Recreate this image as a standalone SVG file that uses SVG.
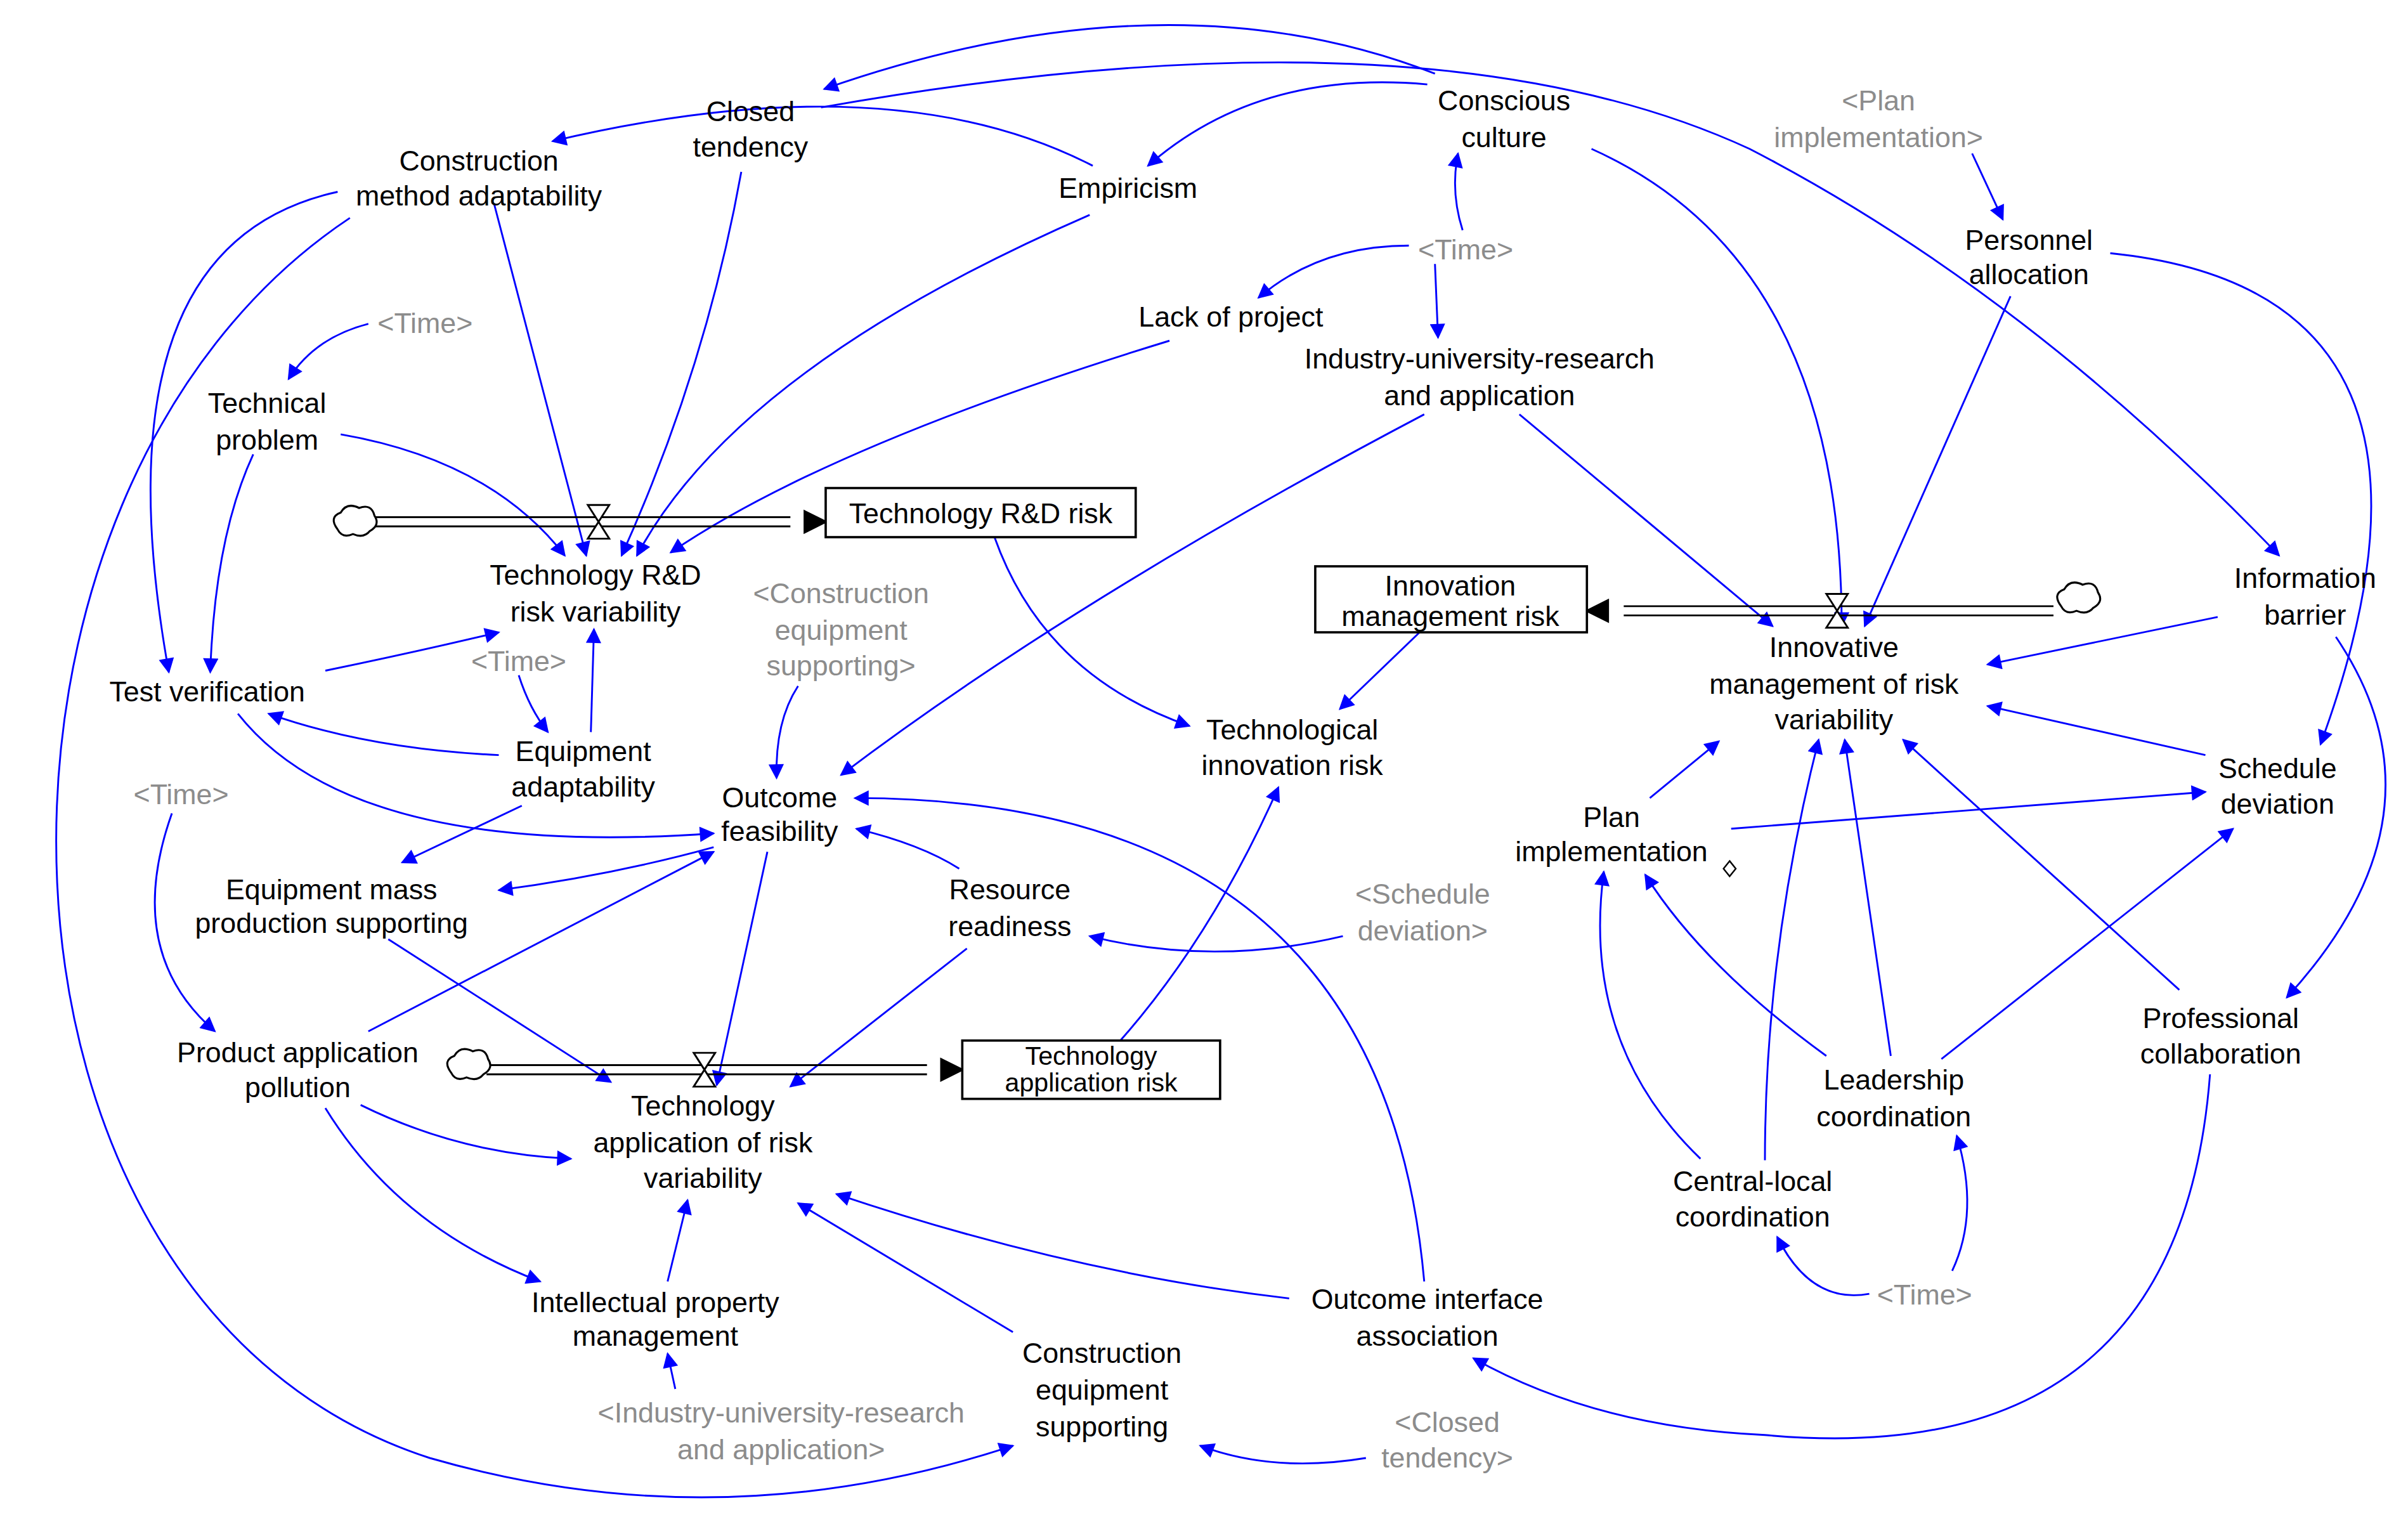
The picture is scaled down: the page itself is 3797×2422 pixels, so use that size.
<svg xmlns="http://www.w3.org/2000/svg" width="3797" height="2422" viewBox="0 0 3797 2422">
<style>
text{font-family:"Liberation Sans",Arial,sans-serif;font-size:18.5px;fill:#000;text-anchor:middle}
text.g{fill:#8c8c8c}
text.s{font-size:17px}
.c path{fill:none;stroke:#0000ff;stroke-width:1.2;marker-end:url(#a)}
.box{fill:#fff;stroke:#000;stroke-width:1.5}
.pipe{fill:none;stroke:#000;stroke-width:1.2}
.cloud{fill:#fff;stroke:#000;stroke-width:1.3}
.valve{fill:#fff;stroke:#000;stroke-width:1.2}
</style>
<defs>
<marker id="a" viewBox="0 0 10 10" refX="9" refY="5" markerWidth="13" markerHeight="10" markerUnits="userSpaceOnUse" orient="auto"><path d="M0,0L10,5L0,10z" fill="#0000ff"/></marker>
<marker id="b" viewBox="0 0 10 10" refX="9" refY="5" markerWidth="28" markerHeight="16" markerUnits="userSpaceOnUse" orient="auto"><path d="M0,0L10,5L0,10z" fill="#000"/></marker>
</defs>
<rect width="3797" height="2422" fill="#fff"/>
<g transform="scale(2.42)">
<g id="connectors" class="c">
<path d="M935,48 Q760,-20 537,58"/>
<path d="M930,55 Q820,45 748,108"/>
<path d="M712,108 Q580,40 360,92"/>
<path d="M535,70 Q930,0 1140,97 Q1320,190 1485,362"/>
<path d="M483,112 Q460,240 405,362"/>
<path d="M322,133 L382,362"/>
<path d="M710,140 Q480,240 415,362"/>
<path d="M762,222 Q540,290 437,360"/>
<path d="M222,283 Q320,300 368,362"/>
<path d="M240,211 Q205,220 188,247"/>
<path d="M165,296 Q140,350 137,438"/>
<path d="M220,125 Q60,160 110,438"/>
<path d="M212,437 Q270,425 325,412"/>
<path d="M385,477 L387,410"/>
<path d="M338,440 Q345,462 357,477"/>
<path d="M325,492 Q240,488 175,465"/>
<path d="M155,465 Q230,560 465,543"/>
<path d="M340,525 L262,562"/>
<path d="M465,552 Q400,570 325,580"/>
<path d="M520,447 Q505,470 506,507"/>
<path d="M928,270 Q700,390 548,505"/>
<path d="M625,566 Q600,550 558,540"/>
<path d="M928,835 Q900,520 557,520"/>
<path d="M240,672 L465,555"/>
<path d="M112,530 Q80,620 140,672"/>
<path d="M500,555 L467,707"/>
<path d="M253,612 L398,705"/>
<path d="M630,618 L515,708"/>
<path d="M235,720 Q300,752 372,755"/>
<path d="M212,722 Q260,800 352,835"/>
<path d="M435,835 L448,782"/>
<path d="M440,905 L435,882"/>
<path d="M660,868 L520,784"/>
<path d="M840,846 Q700,830 545,778"/>
<path d="M890,950 Q830,960 782,942"/>
<path d="M228,142 C-40,320 -30,850 280,950 Q470,1005 660,942"/>
<path d="M648,350 Q680,440 775,473"/>
<path d="M925,412 L873,462"/>
<path d="M730,678 Q790,610 833,513"/>
<path d="M875,610 Q790,630 710,610"/>
<path d="M918,160 Q860,160 820,194"/>
<path d="M935,172 L937,220"/>
<path d="M953,150 Q945,125 950,100"/>
<path d="M1037,97 Q1200,170 1200,408"/>
<path d="M1285,100 L1305,143"/>
<path d="M1310,193 L1215,408"/>
<path d="M990,270 L1155,408"/>
<path d="M1375,165 Q1620,190 1512,485"/>
<path d="M1445,402 L1295,433"/>
<path d="M1522,415 Q1600,530 1490,650"/>
<path d="M1437,492 L1295,460"/>
<path d="M1075,520 L1120,483"/>
<path d="M1128,540 L1437,516"/>
<path d="M1265,690 L1455,540"/>
<path d="M1232,688 L1202,482"/>
<path d="M1190,688 Q1110,630 1072,570"/>
<path d="M1150,756 Q1150,620 1185,482"/>
<path d="M1108,755 Q1030,680 1045,568"/>
<path d="M1420,645 L1240,482"/>
<path d="M1218,843 Q1180,850 1158,806"/>
<path d="M1272,828 Q1290,790 1275,740"/>
<path d="M1440,700 Q1420,960 1150,935 Q1040,930 960,885"/>
</g>
<g id="flow1">
<path class="pipe" d="M243,337 L515,337 M243,343 L515,343"/>
<path d="M243,340 L538,340" stroke="none" fill="none" marker-end="url(#b)"/>
<path class="cloud" d="M220,345 q-6,-8 2,-11 q4,-7 12,-3 q8,-3 10,5 q4,6 -3,10 q-4,5 -11,2 q-7,3 -10,-3z"/>
<path class="valve" d="M383,329 L397,329 L383,351 L397,351z"/>
</g>
<g id="flow2">
<path class="pipe" d="M1338,395 L1058,395 M1338,401 L1058,401"/>
<path d="M1338,398 L1034,398" stroke="none" fill="none" marker-end="url(#b)"/>
<path class="cloud" d="M1343,395 q-6,-8 2,-11 q4,-7 12,-3 q8,-3 10,5 q4,6 -3,10 q-4,5 -11,2 q-7,3 -10,-3z"/>
<path class="valve" d="M1190,387 L1204,387 L1190,409 L1204,409z"/>
</g>
<g id="flow3">
<path class="pipe" d="M317,694 L604,694 M317,700 L604,700"/>
<path d="M317,697 L627,697" stroke="none" fill="none" marker-end="url(#b)"/>
<path class="cloud" d="M294,699 q-6,-8 2,-11 q4,-7 12,-3 q8,-3 10,5 q4,6 -3,10 q-4,5 -11,2 q-7,3 -10,-3z"/>
<path class="valve" d="M452,686 L466,686 L452,708 L466,708z"/>
</g>
<g id="stock-rd"><rect class="box" x="538" y="318" width="202" height="32"/><text x="639" y="341">Technology R&amp;D risk</text></g>
<g id="stock-im"><rect class="box" x="857" y="369" width="177" height="43"/><text x="945" y="388">Innovation</text><text x="945" y="408">management risk</text></g>
<g id="stock-ta"><rect class="box" x="627" y="678" width="168" height="38"/><text class="s" x="711" y="694">Technology</text><text class="s" x="711" y="711">application risk</text></g>
<g id="n1"><text x="489" y="79">Closed</text><text x="489" y="102">tendency</text></g>
<g id="n2"><text x="980" y="72">Conscious</text><text x="980" y="96">culture</text></g>
<g id="n3"><text x="312" y="111">Construction</text><text x="312" y="134">method adaptability</text></g>
<g id="n4"><text x="735" y="129">Empiricism</text></g>
<g id="n5"><text class="g" x="1224" y="72">&lt;Plan</text><text class="g" x="1224" y="96">implementation&gt;</text></g>
<g id="n6"><text x="1322" y="163">Personnel</text><text x="1322" y="185">allocation</text></g>
<g id="n7"><text class="g" x="955" y="169">&lt;Time&gt;</text></g>
<g id="n8"><text x="802" y="213">Lack of project</text></g>
<g id="n9"><text x="964" y="240">Industry-university-research</text><text x="964" y="264">and application</text></g>
<g id="n10"><text class="g" x="277" y="217">&lt;Time&gt;</text></g>
<g id="n11"><text x="174" y="269">Technical</text><text x="174" y="293">problem</text></g>
<g id="n12"><text x="388" y="381">Technology R&amp;D</text><text x="388" y="405">risk variability</text></g>
<g id="n13"><text class="g" x="548" y="393">&lt;Construction</text><text class="g" x="548" y="417">equipment</text><text class="g" x="548" y="440">supporting&gt;</text></g>
<g id="n14"><text x="1502" y="383">Information</text><text x="1502" y="407">barrier</text></g>
<g id="n15"><text x="1195" y="428">Innovative</text><text x="1195" y="452">management of risk</text><text x="1195" y="475">variability</text></g>
<g id="n16"><text x="135" y="457">Test verification</text></g>
<g id="n17"><text class="g" x="338" y="437">&lt;Time&gt;</text></g>
<g id="n18"><text x="380" y="496">Equipment</text><text x="380" y="519">adaptability</text></g>
<g id="n19"><text x="842" y="482">Technological</text><text x="842" y="505">innovation risk</text></g>
<g id="n20"><text x="1484" y="507">Schedule</text><text x="1484" y="530">deviation</text></g>
<g id="n21"><text class="g" x="118" y="524">&lt;Time&gt;</text></g>
<g id="n22"><text x="508" y="526">Outcome</text><text x="508" y="548">feasibility</text></g>
<g id="n23"><text x="1050" y="539">Plan</text><text x="1050" y="561">implementation</text><path d="M1127,561 l4,5 l-4,5 l-4,-5z" fill="#fff" stroke="#000" stroke-width="1"/></g>
<g id="n24"><text x="216" y="586">Equipment mass</text><text x="216" y="608">production supporting</text></g>
<g id="n25"><text x="658" y="586">Resource</text><text x="658" y="610">readiness</text></g>
<g id="n26"><text class="g" x="927" y="589">&lt;Schedule</text><text class="g" x="927" y="613">deviation&gt;</text></g>
<g id="n27"><text x="1447" y="670">Professional</text><text x="1447" y="693">collaboration</text></g>
<g id="n28"><text x="194" y="692">Product application</text><text x="194" y="715">pollution</text></g>
<g id="n29"><text x="458" y="727">Technology</text><text x="458" y="751">application of risk</text><text x="458" y="774">variability</text></g>
<g id="n30"><text x="1234" y="710">Leadership</text><text x="1234" y="734">coordination</text></g>
<g id="n31"><text x="1142" y="776">Central-local</text><text x="1142" y="799">coordination</text></g>
<g id="n32"><text x="427" y="855">Intellectual property</text><text x="427" y="877">management</text></g>
<g id="n33"><text x="930" y="853">Outcome interface</text><text x="930" y="877">association</text></g>
<g id="n34"><text x="718" y="888">Construction</text><text x="718" y="912">equipment</text><text x="718" y="936">supporting</text></g>
<g id="n35"><text class="g" x="1254" y="850">&lt;Time&gt;</text></g>
<g id="n36"><text class="g" x="509" y="927">&lt;Industry-university-research</text><text class="g" x="509" y="951">and application&gt;</text></g>
<g id="n37"><text class="g" x="943" y="933">&lt;Closed</text><text class="g" x="943" y="956">tendency&gt;</text></g>
</g>
</svg>
